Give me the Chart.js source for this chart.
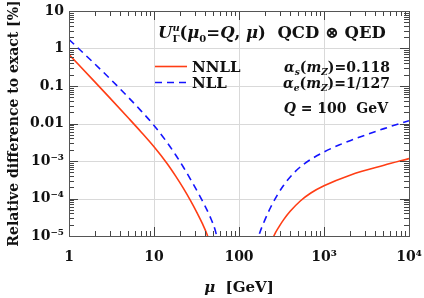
<!DOCTYPE html>
<html>
<head>
<meta charset="utf-8">
<script src="https://cdn.jsdelivr.net/npm/chart.js@4"></script>
<style>
  html, body { margin: 0; padding: 0; background: #fff; }
  #wrap { width: 424px; height: 298px; }
</style>
</head>
<body>
<div id="wrap"><canvas id="errChart" width="424" height="298"></canvas></div>
<script>
// values (mu in GeV, error in %)
const muNNLL = [1, 2, 3, 5, 7, 10, 14.1, 18, 22.2, 27, 32, 37, 42, 46, 100, 235, 257, 300, 337, 400, 530, 700, 1000, 2060, 5080, 10000];
const errNNLL = [0.69, 0.131, 0.049, 0.014, 6.05e-3, 2.39e-3, 8.85e-4, 3.95e-4, 1.86e-4, 8.65e-5, 4.2e-5, 2.17e-5, 1.12e-5, 5.9e-6, null,
    5.4e-6, 1e-5, 1.86e-5, 2.77e-5, 4.55e-5, 8.7e-5, 1.4e-4, 2.18e-4, 4.25e-4, 7.7e-4, 1.16e-3];

const muNLL = [1, 2, 3, 5, 7, 10, 14.1, 18, 22.2, 28, 35, 46, 52.6, 58, 100, 150, 171, 200, 235, 280, 337, 450, 580, 1000, 1500, 2060, 5080, 10000];
const errNLL = [1.74, 0.392, 0.161, 0.0496, 0.0221, 0.0089, 3.24e-3, 1.45e-3, 6.8e-4, 2.77e-4, 1.11e-4, 3.15e-5, 1.4e-5, 5.4e-6, null,
    2.7e-6, 1e-5, 2.57e-5, 5.75e-5, 1.2e-4, 2.3e-4, 5e-4, 8.3e-4, 1.74e-3, 2.66e-3, 3.54e-3, 7.3e-3, 0.0119];

// axis decades and their labels
const xMajor = [1, 10, 100, 1000, 10000];
const xTickLabels = ['1', '10', '100', '10³', '10⁴'];
const yMajor = [1e-5, 1e-4, 1e-3, 0.01, 0.1, 1, 10];
const yTickLabels = ['10⁻⁵', '10⁻⁴', '10⁻³', '0.01', '0.1', '1', '10'];

const SERIF = '"DejaVu Serif", serif';
const RED = '#ff3d14';
const BLUE = '#1414ff';

function majorIndex(majors, v) {
    return majors.findIndex(m => Math.abs(Math.log10(m) - Math.log10(v)) < 1e-6);
}

// all tick positions: decades plus 2..9 in between
function allTicks(majors) {
    const out = [];
    for (let i = 0; i < majors.length; i++) {
        out.push(majors[i]);
        if (i < majors.length - 1) {
            for (let m = 2; m <= 9; m++) out.push(majors[i] * m);
        }
    }
    return out;
}

function toPoints(xs, ys) {
    return xs.map((x, i) => ({ x: x, y: ys[i] }));
}

// draw a run of text pieces: [text, font, dy, advance]
function drawRich(ctx, parts, x, y, align) {
    let w = 0;
    parts.forEach(p => {
        ctx.font = p[1];
        w += (p[3] !== undefined) ? p[3] : ctx.measureText(p[0]).width;
    });
    let cx = align === 'right' ? x - w : (align === 'center' ? x - w / 2 : x);
    parts.forEach(p => {
        ctx.font = p[1];
        ctx.fillText(p[0], cx, y + (p[2] || 0));
        cx += (p[3] !== undefined) ? p[3] : ctx.measureText(p[0]).width;
    });
}

const decorPlugin = {
    id: 'decor',
    beforeDatasetsDraw(chart) {
        // light grid at the decades
        const ctx = chart.ctx;
        const a = chart.chartArea;
        const xs = chart.scales.x, ys = chart.scales.y;
        ctx.save();
        ctx.strokeStyle = '#d9d9d9';
        ctx.lineWidth = 1;
        ctx.beginPath();
        xMajor.forEach(v => {
            const px = Math.round(xs.getPixelForValue(v)) + 0.5;
            ctx.moveTo(px, a.top); ctx.lineTo(px, a.bottom);
        });
        yMajor.forEach(v => {
            const py = Math.round(ys.getPixelForValue(v)) + 0.5;
            ctx.moveTo(a.left, py); ctx.lineTo(a.right, py);
        });
        ctx.stroke();
        ctx.restore();
    },
    afterDraw(chart) {
        const ctx = chart.ctx;
        const a = chart.chartArea;
        const xs = chart.scales.x, ys = chart.scales.y;
        ctx.save();

        // inside tick marks on all four sides
        ctx.strokeStyle = '#444';
        ctx.lineWidth = 1;
        ctx.beginPath();
        xs.ticks.forEach(t => {
            const px = Math.round(xs.getPixelForValue(t.value)) + 0.5;
            const len = majorIndex(xMajor, t.value) >= 0 ? 9 : 5;
            ctx.moveTo(px, a.bottom); ctx.lineTo(px, a.bottom - len);
            ctx.moveTo(px, a.top); ctx.lineTo(px, a.top + len);
        });
        ys.ticks.forEach(t => {
            const py = Math.round(ys.getPixelForValue(t.value)) + 0.5;
            const len = majorIndex(yMajor, t.value) >= 0 ? 9 : 5;
            ctx.moveTo(a.left, py); ctx.lineTo(a.left + len, py);
            ctx.moveTo(a.right, py); ctx.lineTo(a.right - len, py);
        });
        ctx.stroke();

        // frame
        ctx.strokeStyle = '#555';
        ctx.strokeRect(Math.round(a.left) + 0.5, Math.round(a.top) + 0.5,
            Math.round(a.right - a.left), Math.round(a.bottom - a.top));

        ctx.fillStyle = '#111';
        ctx.textBaseline = 'alphabetic';
        ctx.textAlign = 'left';

        // legend
        ctx.lineWidth = 1.6;
        ctx.strokeStyle = RED;
        ctx.setLineDash([]);
        ctx.beginPath(); ctx.moveTo(155, 66.5); ctx.lineTo(187, 66.5); ctx.stroke();
        ctx.strokeStyle = BLUE;
        ctx.setLineDash([7, 5]);
        ctx.beginPath(); ctx.moveTo(155, 82.5); ctx.lineTo(189, 82.5); ctx.stroke();
        ctx.setLineDash([]);
        ctx.font = 'bold 15px ' + SERIF;
        ctx.fillText(chart.data.datasets[0].label, 192, 71.5);
        ctx.fillText(chart.data.datasets[1].label, 192, 87.5);

        // header
        const BI16 = 'bold italic 16.5px ' + SERIF, B16 = 'bold 16.5px ' + SERIF;
        const BI10 = 'bold italic 10px ' + SERIF, B10 = 'bold 10px ' + SERIF;
        drawRich(ctx, [
            ['U', BI16], ['u', BI10, -7, 0], ['Γ', B10, 4], ['(', B16], ['μ', BI16], ['0', B10, 4],
            ['=', B16], ['Q', BI16], [', ', B16], ['μ', BI16], [')', B16],
            ['  QCD ', B16], ['⊗', B16], [' QED', B16]
        ], 158, 38, 'left');

        // parameters
        const BI14 = 'bold italic 14px ' + SERIF, B14 = 'bold 14px ' + SERIF;
        const BI9 = 'bold italic 9px ' + SERIF;
        drawRich(ctx, [['α', BI14], ['s', BI9, 3], ['(', B14], ['m', BI14], ['Z', BI9, 3], [')', B14],
            ['=', B14], ['0.118', B14]], 390, 71.5, 'right');
        drawRich(ctx, [['α', BI14], ['e', BI9, 3], ['(', B14], ['m', BI14], ['Z', BI9, 3], [')', B14],
            ['=', B14], ['1/127', B14]], 390, 87.5, 'right');
        drawRich(ctx, [['Q', BI14], [' = ', B14], ['100  GeV', B14]], 388, 113, 'right');

        // axis titles
        drawRich(ctx, [['μ', 'bold italic 15px ' + SERIF], ['  [GeV]', 'bold 15px ' + SERIF]],
            (a.left + a.right) / 2, 292, 'center');
        ctx.save();
        ctx.translate(14, (a.top + a.bottom) / 2);
        ctx.rotate(-Math.PI / 2);
        ctx.textAlign = 'center';
        ctx.textBaseline = 'middle';
        ctx.font = 'bold 14px ' + SERIF;
        ctx.fillText('Relative difference to exact [%]', 0, 0);
        ctx.restore();

        ctx.restore();
    }
};

const ctx = document.getElementById('errChart').getContext('2d');
const errChart = new Chart(ctx, {
    type: 'line',
    data: {
        datasets: [
            {
                label: 'NNLL',
                data: toPoints(muNNLL, errNNLL),
                borderColor: RED,
                borderWidth: 1.6,
                pointRadius: 0,
                fill: false,
                cubicInterpolationMode: 'monotone',
                clip: 0
            },
            {
                label: 'NLL',
                data: toPoints(muNLL, errNLL),
                borderColor: BLUE,
                borderWidth: 1.6,
                borderDash: [7, 5],
                pointRadius: 0,
                fill: false,
                cubicInterpolationMode: 'monotone',
                clip: 0
            }
        ]
    },
    options: {
        responsive: false,
        animation: false,
        devicePixelRatio: 1,
        layout: { padding: { top: 11, right: 15, left: 0, bottom: 0 } },
        scales: {
            x: {
                type: 'logarithmic',
                min: 1,
                max: 10000,
                afterFit: s => { s.height = 62; s.paddingLeft = 0; s.paddingRight = 0; },
                afterBuildTicks: s => { s.ticks = allTicks(xMajor).map(v => ({ value: v })); },
                border: { display: false },
                grid: { display: false, drawTicks: false },
                ticks: {
                    autoSkip: false,
                    maxRotation: 0,
                    padding: 13,
                    color: '#111',
                    font: { family: SERIF, size: 14, weight: 'bold' },
                    callback: v => { const i = majorIndex(xMajor, v); return i >= 0 ? xTickLabels[i] : ''; }
                }
            },
            y: {
                type: 'logarithmic',
                min: 1e-5,
                max: 10,
                afterFit: s => { s.width = 69; s.paddingTop = 0; s.paddingBottom = 0; },
                afterBuildTicks: s => { s.ticks = allTicks(yMajor).map(v => ({ value: v })); },
                border: { display: false },
                grid: { display: false, drawTicks: false },
                ticks: {
                    autoSkip: false,
                    padding: 5,
                    color: '#111',
                    font: { family: SERIF, size: 14, weight: 'bold' },
                    callback: v => { const i = majorIndex(yMajor, v); return i >= 0 ? yTickLabels[i] : ''; }
                }
            }
        },
        plugins: {
            legend: { display: false },
            tooltip: { enabled: false }
        }
    },
    plugins: [decorPlugin]
});
</script>
</body>
</html>
